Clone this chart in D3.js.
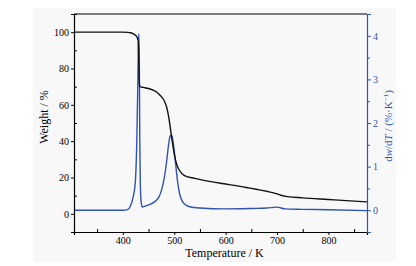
<!DOCTYPE html>
<html>
<head>
<meta charset="utf-8">
<script src="https://cdn.jsdelivr.net/npm/d3@7"></script>
<style>
  body { margin: 0; background: #ffffff; }
  svg text { font-family: "Liberation Serif", "DejaVu Serif", serif; }
</style>
</head>
<body>
<div id="dataviz"></div>
<script>
// TG curve (weight %)
var tgTemp = [305, 350, 400, 410, 415, 420, 425, 428, 430, 431, 432, 433, 440, 450, 460, 465, 470, 475, 480, 485, 490, 495, 500, 505, 510, 520, 540, 560, 580, 600, 620, 640, 660, 680, 700, 710, 720, 750, 800, 850, 875];
var tgWeight = [100, 100, 100, 99.9, 99.7, 99.2, 98.2, 97, 95, 85, 72, 70, 69.6, 69, 68, 67.2, 66, 64.5, 62.5, 59, 52, 42, 33, 27, 24, 21, 19.5, 18.3, 17.3, 16.4, 15.5, 14.5, 13.5, 12.4, 11, 10, 9.5, 8.8, 7.9, 7, 6.6];

// DTG curve (%/K)
var dtgTemp = [305, 400, 410, 415, 420, 424, 427, 429, 430, 431, 432, 433, 434, 436, 438, 440, 450, 460, 470, 475, 480, 485, 489, 492, 495, 498, 502, 506, 510, 515, 520, 530, 550, 600, 650, 680, 700, 715, 750, 800, 875];
var dtgValue = [0, 0, 0.02, 0.1, 0.3, 0.6, 1.5, 2.8, 3.6, 4.05, 3.5, 1.6, 0.6, 0.15, 0.07, 0.08, 0.12, 0.18, 0.3, 0.45, 0.7, 1.1, 1.5, 1.7, 1.72, 1.55, 1.15, 0.7, 0.4, 0.22, 0.14, 0.08, 0.05, 0.03, 0.04, 0.05, 0.07, 0.03, 0.02, 0.01, -0.01];

var xTicks = [400, 500, 600, 700, 800];
var xMinor = [350, 450, 550, 650, 750, 850];
var yLeftTicks = [0, 20, 40, 60, 80, 100];
var yLeftMinor = [-10, 10, 30, 50, 70, 90, 110];
var yRightTicks = [0, 1, 2, 3, 4];
var yRightMinor = [-0.5, 0.5, 1.5, 2.5, 3.5];

var blue = "#2f54b0";
var font = "'Liberation Serif', 'DejaVu Serif', serif";

var W = 416, H = 266;
var margin = {top: 14, right: 49, bottom: 34, left: 74};
var width = W - margin.left - margin.right;
var height = H - margin.top - margin.bottom;

var root = d3.select("#dataviz")
  .append("svg")
    .attr("width", W)
    .attr("height", H);

// faint page background of the figure
root.append("rect")
  .attr("x", 33).attr("y", 8)
  .attr("width", 363).attr("height", 254)
  .attr("fill", "#f8f8f8");

var svg = root.append("g")
  .attr("transform", "translate(" + margin.left + "," + margin.top + ")");

var x = d3.scaleLinear().domain([305, 875]).range([0, width]);
var yL = d3.scaleLinear().domain([-10, 110]).range([height, 0]);
var yR = d3.scaleLinear().domain([-0.5, 4.5]).range([height, 0]);

// curves
var tgData = tgTemp.map(function(t, i) { return [t, tgWeight[i]]; });
var dtgData = dtgTemp.map(function(t, i) { return [t, dtgValue[i]]; });

svg.append("path")
  .datum(dtgData)
  .attr("fill", "none")
  .attr("stroke", blue)
  .attr("stroke-width", 1.4)
  .attr("d", d3.line().x(function(d) { return x(d[0]); }).y(function(d) { return yR(d[1]); }).curve(d3.curveMonotoneX));

svg.append("path")
  .datum(tgData)
  .attr("fill", "none")
  .attr("stroke", "#111")
  .attr("stroke-width", 1.4)
  .attr("d", d3.line().x(function(d) { return x(d[0]); }).y(function(d) { return yL(d[1]); }).curve(d3.curveMonotoneX));

// bottom axis
svg.append("g")
  .attr("transform", "translate(0," + height + ")")
  .attr("font-family", font).attr("font-size", 12)
  .call(d3.axisBottom(x).tickValues(xTicks).tickSize(3).tickPadding(2));
svg.append("g")
  .attr("transform", "translate(0," + height + ")")
  .call(d3.axisBottom(x).tickValues(xMinor).tickSize(-3).tickFormat(""))
  .select(".domain").remove();

// left axis
svg.append("g")
  .attr("font-family", font).attr("font-size", 12)
  .call(d3.axisLeft(yL).tickValues(yLeftTicks).tickSize(3).tickPadding(2));
svg.append("g")
  .call(d3.axisLeft(yL).tickValues(yLeftMinor).tickSize(-3).tickFormat(""))
  .select(".domain").remove();

// top frame
svg.append("line")
  .attr("x1", 0).attr("x2", width)
  .attr("y1", 0).attr("y2", 0)
  .attr("stroke", "#000");

// right axis (blue)
var rAxis = svg.append("g")
  .attr("transform", "translate(" + width + ",0)")
  .attr("font-family", font).attr("font-size", 12)
  .call(d3.axisRight(yR).tickValues(yRightTicks).tickFormat(d3.format("d")).tickSize(4).tickPadding(2));
var rMinor = svg.append("g")
  .attr("transform", "translate(" + width + ",0)")
  .call(d3.axisRight(yR).tickValues(yRightMinor).tickSize(3).tickFormat(""));
rMinor.select(".domain").remove();
rAxis.selectAll("path, line").attr("stroke", blue);
rMinor.selectAll("line").attr("stroke", blue);
rAxis.selectAll("text").attr("fill", blue);

root.selectAll(".domain").attr("stroke-width", 1.2);

// axis titles
svg.append("text")
  .attr("x", width / 2 + 4)
  .attr("y", height + 25)
  .text("Temperature / K")
    .style("text-anchor", "middle")
    .style("font-size", "12px");

svg.append("text")
  .attr("transform", "translate(" + (-26) + "," + (height / 2 - 6) + ") rotate(-90)")
  .text("Weight / %")
    .style("text-anchor", "middle")
    .style("font-size", "12px");

var rt = svg.append("text")
  .attr("transform", "translate(" + (width + 25) + "," + (height / 2 + 3) + ") rotate(-90)")
  .attr("fill", blue)
  .style("text-anchor", "middle")
  .style("font-size", "11px");
rt.append("tspan").text("d");
rt.append("tspan").text("w").style("font-style", "italic");
rt.append("tspan").text("/d");
rt.append("tspan").text("T").style("font-style", "italic");
rt.append("tspan").text(" / (%\u00b7K");
rt.append("tspan").text("\u22121").attr("dy", -4).style("font-size", "7px");
rt.append("tspan").text(")").attr("dy", 4);
</script>
</body>
</html>
